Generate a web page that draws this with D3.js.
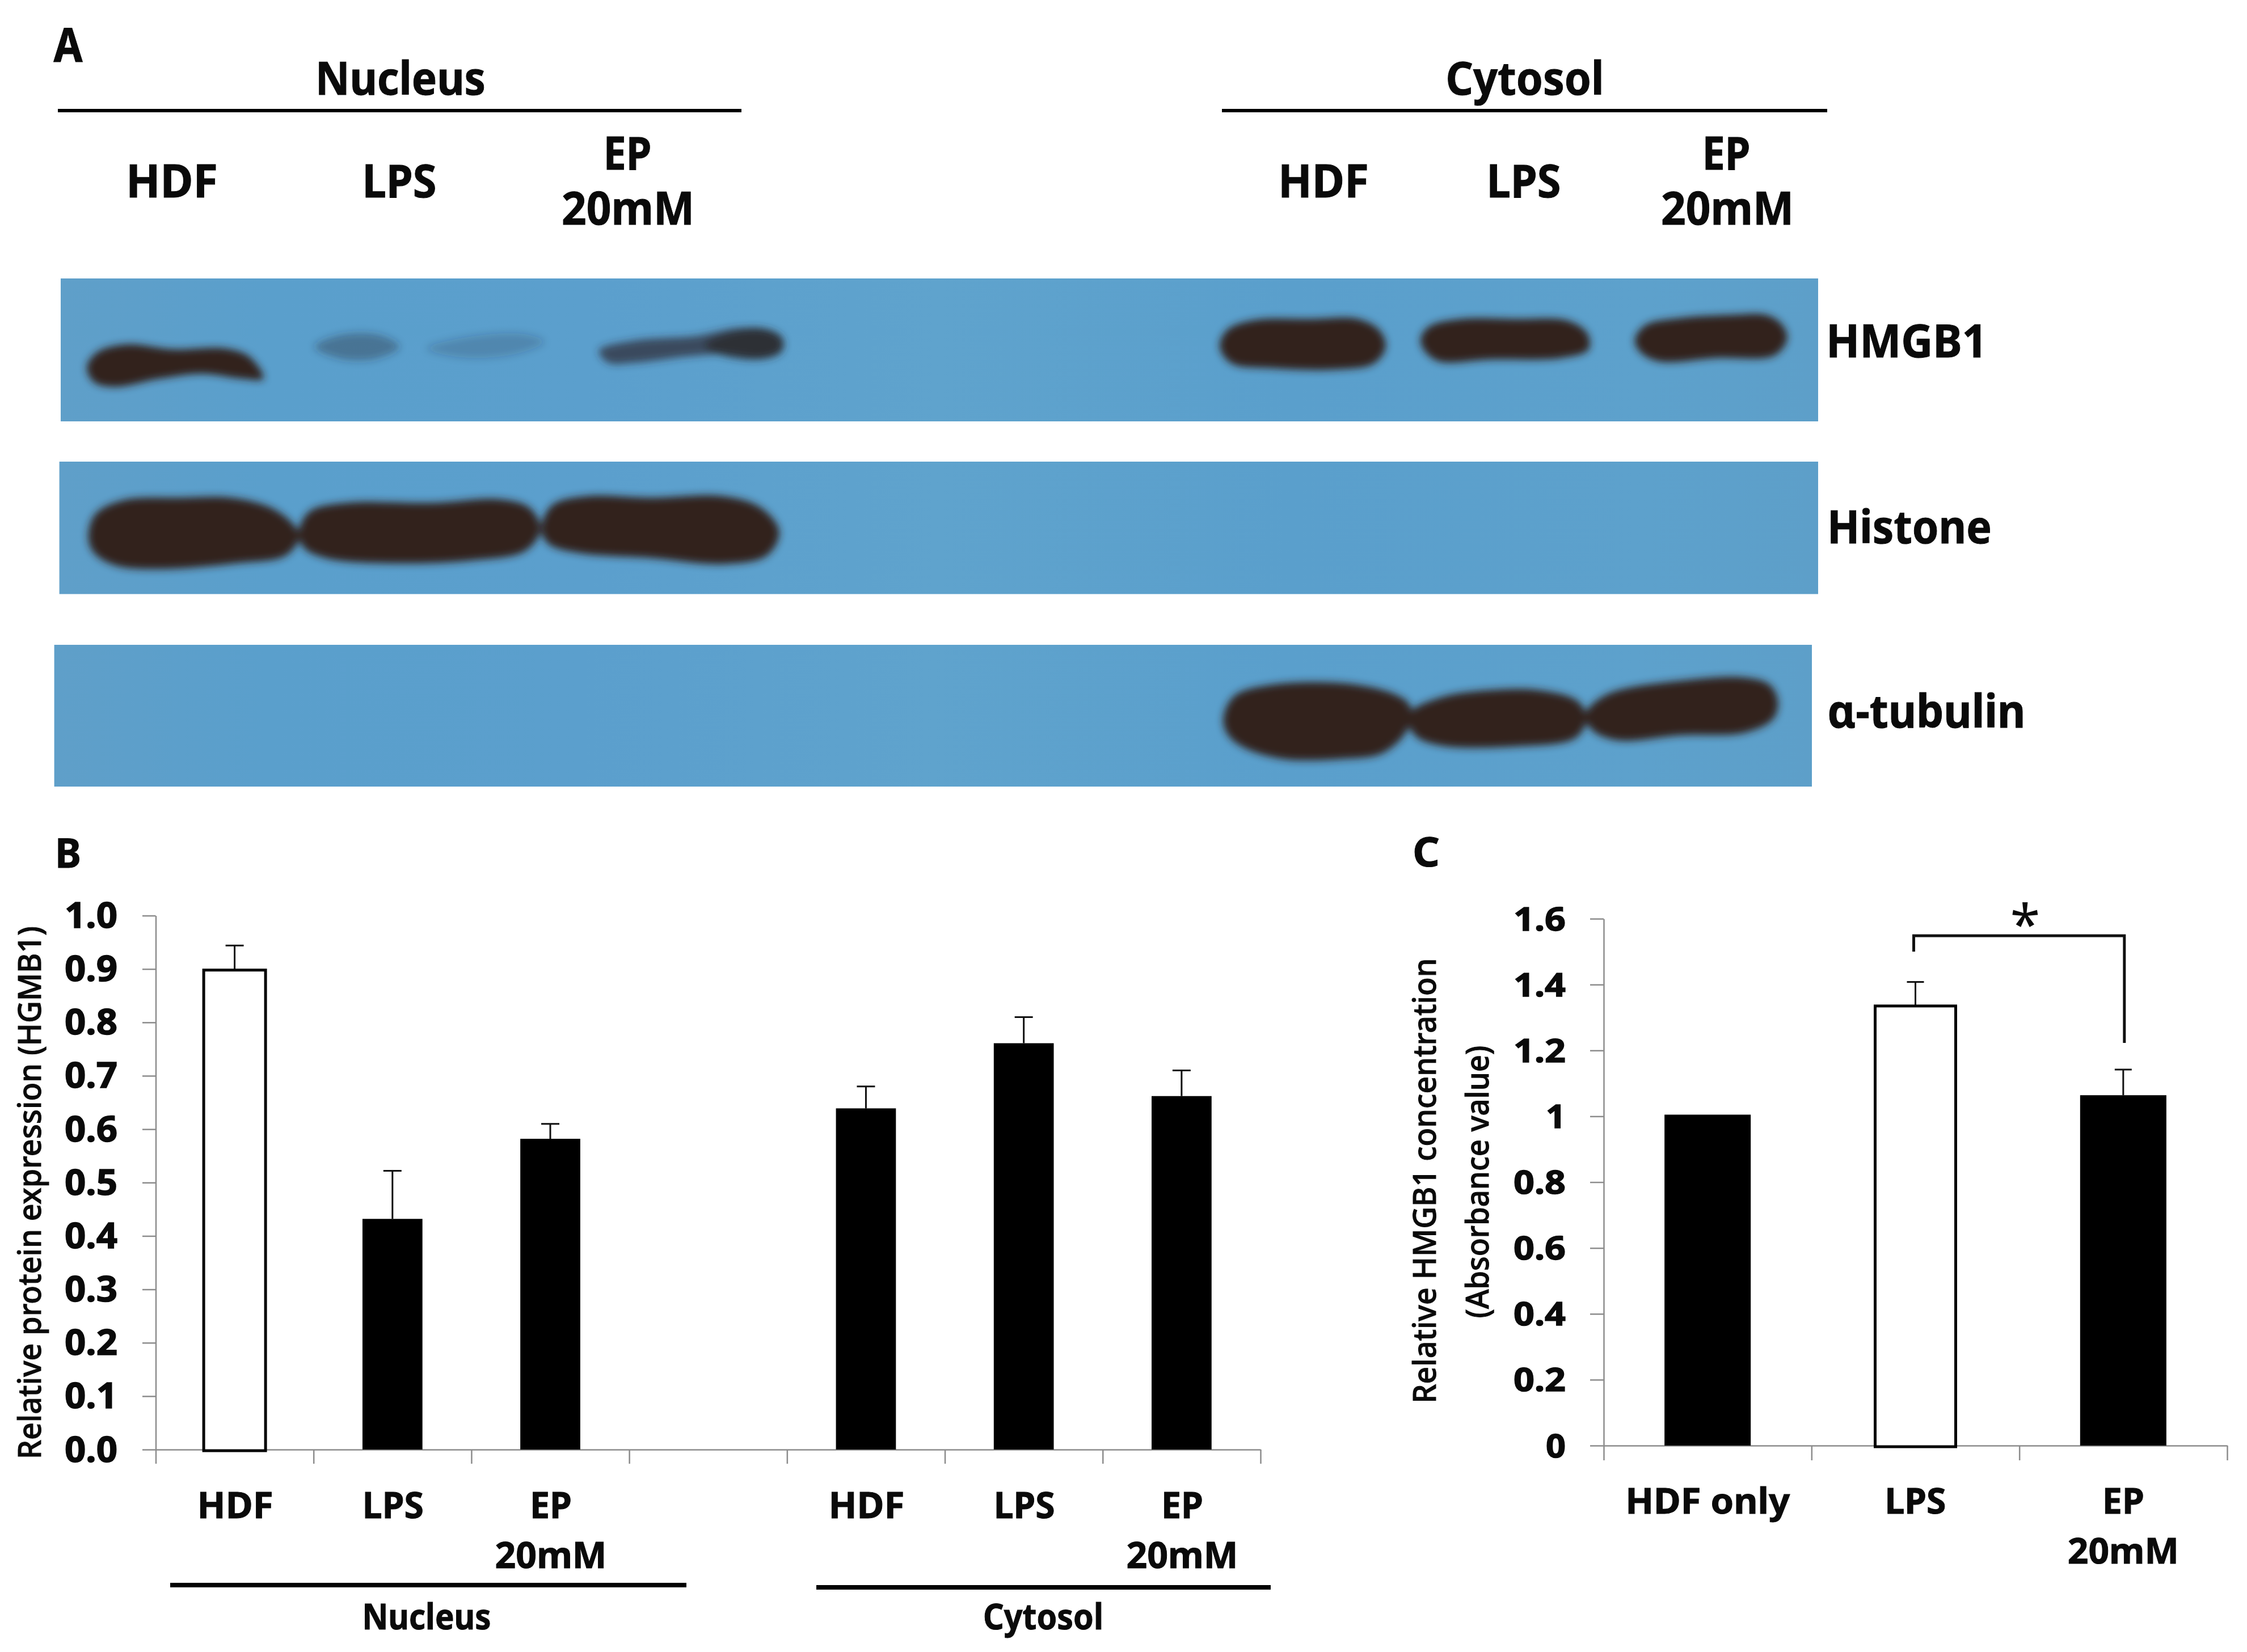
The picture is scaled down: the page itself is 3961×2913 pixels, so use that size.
<!DOCTYPE html>
<html><head><meta charset="utf-8">
<script src="https://cdn.jsdelivr.net/npm/d3@7"></script>
<style>html,body{margin:0;padding:0;background:#fff}svg{display:block}text{font-family:"Noto Sans",sans-serif;fill:#0a0a0a}</style>
</head><body><div id="c"></div>
<script>
// ---------- data ----------
const bCategories = ["HDF","LPS","EP|20mM","","HDF","LPS","EP|20mM"];
const bValues = [0.898,0.432,0.582,null,0.639,0.761,0.662];
const bErrorTops = [0.944,0.522,0.61,null,0.68,0.81,0.71];
const bHollow = [true,false,false,false,false,false,false];
const bTicks = [0,0.1,0.2,0.3,0.4,0.5,0.6,0.7,0.8,0.9,1.0];

const cCategories = ["HDF only","LPS","EP|20mM"];
const cValues = [1.005,1.335,1.064];
const cErrorTops = [null,1.408,1.142];
const cHollow = [false,true,false];
const cTicks = [0,0.2,0.4,0.6,0.8,1,1.2,1.4,1.6];

// gel outlines, in gel units (0-1568 across each half of the blot)
const gelLeftDark = [
 [[120,725],[135,695],[175,680],[240,690],[310,688],[345,705],[364,748],[335,748],[280,738],[220,748],[160,764],[130,755]],
 [[122,1060],[132,1015],[170,988],[250,983],[320,983],[375,1003],[405,1035],[414,1060],[395,1097],[330,1112],[220,1124],[160,1117],[130,1092]],
 [[413,1050],[428,1010],[480,993],[600,993],[690,986],[732,1003],[747,1045],[727,1087],[650,1107],[520,1112],[450,1102],[420,1082]],
 [[748,1045],[763,998],[810,980],[900,983],[1000,980],[1052,1003],[1077,1050],[1060,1097],[1000,1114],[900,1102],[800,1092],[758,1074]]
];
const gelLeftFaint = [
 {o:0.36,pts:[[435,685],[470,662],[525,662],[552,685],[520,708],[470,708]]},
 {o:0.2,pts:[[590,688],[650,665],[725,660],[752,675],[715,698],[640,706]]},
 {o:0.72,pts:[[828,692],[880,672],[960,664],[1020,648],[1065,653],[1084,680],[1060,707],[1010,699],[950,704],[880,716],[840,716]]},
 {o:0.85,pts:[[975,680],[1045,648],[1080,665],[1080,695],[1045,710],[985,695]]}
];
const gelRightDark = [
 [[120,680],[132,650],[170,632],[250,630],[315,630],[345,652],[354,685],[337,718],[280,730],[190,727],[140,720],[125,702]],
 [[403,670],[415,645],[460,630],[540,630],[610,633],[638,658],[640,690],[602,707],[500,710],[430,714],[410,695]],
 [[705,672],[720,642],[770,628],[840,622],[890,622],[912,640],[920,668],[902,702],[820,707],[740,714],[714,697]],
 [[125,1420],[140,1375],[190,1353],[300,1350],[370,1373],[388,1393],[385,1440],[350,1487],[290,1499],[210,1499],[155,1477],[132,1452]],
 [[385,1412],[430,1378],[500,1363],[570,1363],[625,1385],[637,1420],[622,1457],[540,1474],[430,1472],[395,1452]],
 [[635,1412],[665,1372],[780,1343],[860,1338],[895,1352],[907,1385],[900,1420],[860,1447],[770,1452],[680,1462],[645,1442]]
];

// ---------- page ----------
const W=3961,H=2913;
const svg=d3.select("#c").append("svg").attr("width",W).attr("height",H).attr("viewBox",[0,0,W,H]);
svg.append("rect").attr("width",W).attr("height",H).attr("fill","#fff");
const defs=svg.append("defs");
defs.append("filter").attr("id","blur").attr("x","-20%").attr("y","-40%").attr("width","140%").attr("height","180%")
  .append("feGaussianBlur").attr("stdDeviation",7);
const grad=defs.append("linearGradient").attr("id","film");
[[0,"#5f9fc9"],[0.12,"#5a9fcc"],[0.3,"#5b9fcd"],[0.5,"#5fa3cd"],[0.7,"#5a9fcc"],[0.9,"#5da1cc"],[1,"#5d9fc9"]]
  .forEach(([o,c])=>grad.append("stop").attr("offset",o).attr("stop-color",c));

function label(parent,str,x,y,width,size,weight,anchorRot){
  const t=parent.append("text").attr("text-anchor","middle").attr("font-size",size).attr("font-weight",weight||700)
    .attr("textLength",width).attr("lengthAdjust","spacingAndGlyphs")
    .attr("stroke","#0a0a0a").attr("stroke-width",1).text(str);
  if(anchorRot) t.attr("transform",`translate(${x},${y}) rotate(-90)`); else t.attr("x",x).attr("y",y);
  return t;
}

// ---------- panel A ----------
const A=svg.append("g");
const gy=d3.scaleLinear([0,1568],[0,1400]);
const gxL=d3.scaleLinear([0,1568],[0,2000]);
const gxR=d3.scaleLinear([0,1568],[2000,3961]);
[[107,3205,491,743],[104.6,3205,814,1047.5],[95.6,3194,1137,1387]].forEach(([x0,x1,y0,y1])=>
  A.append("rect").attr("x",x0).attr("y",y0).attr("width",x1-x0).attr("height",y1-y0).attr("fill","url(#film)"));
const blob=sx=>d3.line().x(d=>sx(d[0])).y(d=>gy(d[1])).curve(d3.curveCatmullRomClosed.alpha(0.5));
const bandInk="#33201f";
const gel=A.append("g").attr("filter","url(#blur)");
gel.selectAll(".f").data(gelLeftFaint).join("path").attr("d",d=>blob(gxL)(d.pts)).attr("fill","#2c2a30").attr("opacity",d=>d.o);
gel.selectAll(".l").data(gelLeftDark).join("path").attr("d",blob(gxL)).attr("fill",bandInk);
gel.selectAll(".r").data(gelRightDark).join("path").attr("d",blob(gxR)).attr("fill",bandInk);

label(A,"A",120,109,51,82);
label(A,"Nucleus",706,167,300,80);
label(A,"Cytosol",2688,167,279,80);
[[102,1307],[2154,3221]].forEach(([a,b])=>A.append("line").attr("x1",a).attr("x2",b).attr("y1",195).attr("y2",195).attr("stroke","#000").attr("stroke-width",6));
[["HDF",303,348,162],["LPS",704,348,131],["EP",1106,299,85],["20mM",1107,396,234],
 ["HDF",2333,348,160],["LPS",2686,348,131],["EP",3043,299,85],["20mM",3045,396,234]]
 .forEach(d=>label(A,d[0],d[1],d[2],d[3],80));
[["HMGB1",3361,630,284],["Histone",3366,958,290],["α-tubulin",3396,1283,349]]
 .forEach(d=>label(A,d[0],d[1],d[2],d[3],80));

// ---------- bar panels ----------
function panel(o){
  const g=svg.append("g");
  const y=d3.scaleLinear().domain(o.domain).range([o.y0,o.y1]);
  const x=d3.scaleBand().domain(d3.range(o.cats.length)).range([o.x0,o.x1]).paddingInner(o.pad).paddingOuter(o.pad/2);
  const edge=d3.scaleLinear().domain([0,o.cats.length]).range([o.x0,o.x1]);
  const yAxis=d3.axisLeft(y).tickValues(o.ticks).tickSize(o.x0-o.tickLeft).tickSizeOuter(0).tickFormat(o.fmt);
  const xAxis=d3.axisBottom(edge).tickValues(d3.range(o.cats.length+1)).tickSize(o.y0Tick-o.y0).tickSizeOuter(0).tickFormat("");
  const ya=g.append("g").attr("transform",`translate(${o.x0},0)`).call(yAxis);
  const xa=g.append("g").attr("transform",`translate(0,${o.y0})`).call(xAxis);
  [ya,xa].forEach(a=>{a.selectAll("line,path").attr("stroke","#8c8c8c").attr("stroke-width",2.5);});
  ya.selectAll("text").attr("x",o.tickRight-o.x0).attr("dy",null).attr("y",o.tickBase).attr("text-anchor","end")
    .attr("font-size",o.tickFont).attr("font-weight",700).attr("stroke","#0a0a0a").attr("stroke-width",1.5)
    .each(function(){const s=this.textContent;d3.select(this).attr("textLength",s.length===1?o.tickW1:o.tickW3).attr("lengthAdjust","spacingAndGlyphs");});
  ya.attr("font-family",null).attr("font-size",null);
  xa.attr("font-family",null);

  const idx=d3.range(o.cats.length).filter(i=>o.vals[i]!=null);
  // error bars
  g.selectAll(".eb").data(idx.filter(i=>o.tops[i]!=null)).join("path")
    .attr("fill","none").attr("stroke","#111").attr("stroke-width",3)
    .attr("d",i=>{const c=x(i)+x.bandwidth()/2;return `M${c},${y(o.vals[i])}V${y(o.tops[i])}M${c-o.cap},${y(o.tops[i])}H${c+o.cap}`;});
  // bars
  g.selectAll(".bar").data(idx).join("rect")
    .attr("x",i=>o.hollow[i]?x(i)+x.bandwidth()/2-o.hollowW/2:x(i))
    .attr("width",i=>o.hollow[i]?o.hollowW:x.bandwidth())
    .attr("y",i=>y(o.vals[i]))
    .attr("height",i=>y(0)-y(o.vals[i])+(o.hollow[i]?2:0))
    .attr("fill",i=>o.hollow[i]?"#fff":"#000")
    .attr("stroke",i=>o.hollow[i]?"#000":"none").attr("stroke-width",5);
  // category labels
  o.cats.forEach((c,i)=>{ if(!c) return;
    const cx=x(i)+x.bandwidth()/2+o.labelDx;
    c.split("|").forEach((p,k)=>label(g,p,cx,k?o.lab2:o.lab1,o.widths[p],o.labFont));
  });
  return {g,x,y};
}

const fmt1=d3.format(".1f");
const B=panel({cats:bCategories,vals:bValues,tops:bErrorTops,hollow:bHollow,domain:[0,1],ticks:bTicks,fmt:fmt1,
  x0:274.5,x1:2222,y0:2556,y1:1614.5,y0Tick:2581,tickLeft:251,tickRight:207,tickBase:21,tickFont:62,tickW1:30,tickW3:93,
  pad:0.62,hollowW:109,cap:16,labelDx:1,lab1:2677,lab2:2765,labFont:65,
  widths:{"HDF":134,"LPS":108,"EP":74,"20mM":197}});
const C=panel({cats:cCategories,vals:cValues,tops:cErrorTops,hollow:cHollow,domain:[0,1.6],ticks:cTicks,fmt:d=>String(d),
  x0:2827,x1:3926,y0:2549,y1:1620,y0Tick:2575,tickLeft:2803,tickRight:2760,tickBase:20,tickFont:58,tickW1:35,tickW3:92,
  pad:0.585,hollowW:142,cap:15,labelDx:0,lab1:2669,lab2:2757,labFont:62,
  widths:{"HDF only":290,"LPS":108,"EP":74,"20mM":196}});

label(B.g,"B",120,1530,46,72);
label(C.g,"C",2514,1528,48,72);

// titles
label(B.g,"Relative protein expression (HGMB1)",72,2103,940,56,500,true);
label(C.g,"Relative HMGB1 concentration",2531,2082,785,57,500,true);
label(C.g,"(Absorbance value)",2624,2084,481,57,500,true);

// group rules under panel B
[[300,1210,2795],[1439,2240,2799]].forEach(([a,b,yy])=>
  B.g.append("line").attr("x1",a).attr("x2",b).attr("y1",yy).attr("y2",yy).attr("stroke","#000").attr("stroke-width",8));
label(B.g,"Nucleus",752,2873,227,62);
label(B.g,"Cytosol",1839,2873,212,62);

// significance bracket
const bx1=C.x(1)+C.x.bandwidth()/2-3, bx2=C.x(2)+C.x.bandwidth()/2+2;
C.g.append("path").attr("fill","none").attr("stroke","#111").attr("stroke-width",5)
  .attr("d",`M${bx1},${C.y(1.5)}V${C.y(1.5)-28}H${bx2}V${C.y(1.5)+161}`);
C.g.append("text").attr("x",3570).attr("y",1665).attr("text-anchor","middle").attr("font-size",96).attr("font-weight",400).text("*");
</script></body></html>
